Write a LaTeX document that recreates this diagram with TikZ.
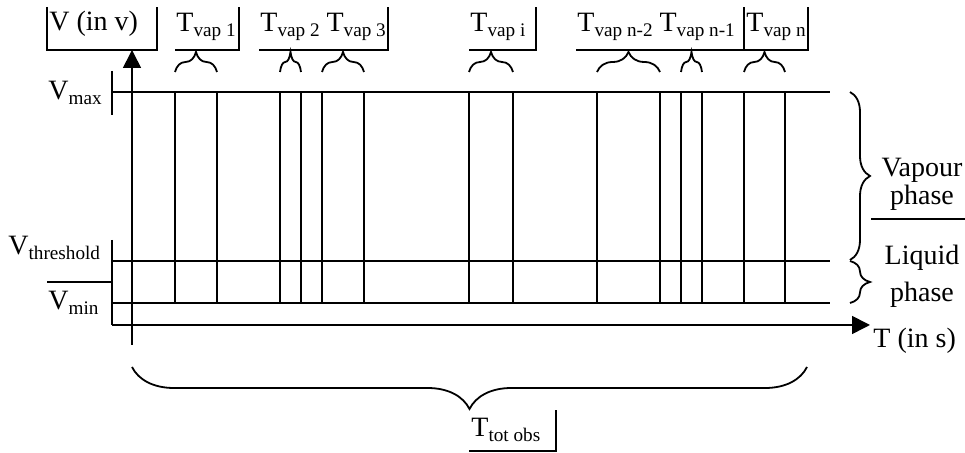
\documentclass[tikz,border=0pt]{standalone}
\usepackage{fontspec}
\setmainfont{Liberation Serif}
\usetikzlibrary{arrows.meta,decorations.pathreplacing}
\newcommand\lowsub[1]{\raisebox{-2.2pt}{\fontsize{9.6}{10}\selectfont #1}}
\begin{document}
\begin{tikzpicture}[x=0.5pt,y=-0.5pt,
  ln/.style={line width=1pt},
  thin/.style={line width=0.8pt},
  lbl/.style={anchor=base west,inner sep=0pt,font=\fontsize{14}{16}\selectfont},
  clbl/.style={anchor=base,inner sep=0pt,font=\fontsize{14}{16}\selectfont},
  brc/.style={line width=0.9pt,decorate,decoration={brace,amplitude=#1}},
  axis/.style={line width=0.8pt,-{Triangle[length=9pt,width=9pt]}}]
\useasboundingbox (0,0) rectangle (965,453);

% axes
\coordinate (yb) at (132,345);
\coordinate (yt) at (132,50);
\coordinate (xl) at (112,325);
\coordinate (xr) at (870,325);
\draw[axis] (yb) -- (yt);
\draw[axis] (xl) -- (xr);

% level lines
\coordinate (maxl) at (112,92);  \coordinate (maxr) at (830,92);
\coordinate (thl) at (112,261);  \coordinate (thr) at (830,261);
\coordinate (minl) at (112,303); \coordinate (minr) at (830,303);
\draw[ln] (maxl) -- (maxr);
\draw[ln] (thl) -- (thr);
\draw[ln] (minl) -- (minr);
\draw[ln] (112,71) -- (112,115);
\draw[ln] (112,240) -- (xl);
\draw[thin] (47,282) -- (112,282);

% pulses
\foreach \x in {175,217,280,301,322,364,469,513,597,660,681,702,744,785}
  \draw[ln] (\x,92) -- (\x,303);

% level labels
\node[lbl] (vmax) at (48,100) {V\lowsub{max}};
\node[lbl] (vth) at (8,255) {V\lowsub{threshold}};
\node[lbl] (vmin) at (48,310) {V\lowsub{min}};

% top labels
\node[lbl] (vlab) at (49,31) {V (in v)};
\draw[ln] (47,7) -- (47,50) -- (157,50) -- (157,7);

\node[lbl] (t1) at (176,32) {T\lowsub{vap 1}};
\draw[ln] (175,50) -- (239,50) -- (239,7);

\node[lbl] (t2) at (260,32) {T\lowsub{vap 2} T\lowsub{vap 3}};
\draw[ln] (259,50) -- (388,50) -- (388,7);

\node[lbl] (ti) at (470,32) {T\lowsub{vap i}};
\draw[ln] (469,50) -- (536,50) -- (536,7);

\node[lbl] (tn2) at (577,32) {T\lowsub{vap n-2} T\lowsub{vap n-1}};
\node[lbl] (tn) at (746,32) {T\lowsub{vap n}};
\draw[ln] (576,50) -- (808,50) -- (808,7);
\draw[ln] (744,50) -- (744,7);

% top braces
\foreach \a/\b in {175/217,280/301,322/364,469/513,597/660,681/702,744/785}
  \draw[brc=10pt] (\a,72) -- (\b,72);

% right braces
\draw[brc=10pt] (850,92) -- (850,260);
\draw[brc=10pt] (850,261) -- (850,303);
\draw[thin] (871,219) -- (965,219);
\node[clbl] (vap) at (922,177) {Vapour};
\node[clbl] (vph) at (922,205) {phase};
\node[clbl] (liq) at (922,265) {Liquid};
\node[clbl] (lph) at (922,302) {phase};
\node[lbl] (tlab) at (873,348) {T (in s)};

% bottom brace
\draw[brc=21pt] (807,367) -- (132,367);
\node[lbl] (ttot) at (471,437) {T\lowsub{tot obs}};
\draw[ln] (469,451) -- (556,451) -- (556,410);
\end{tikzpicture}
\end{document}
